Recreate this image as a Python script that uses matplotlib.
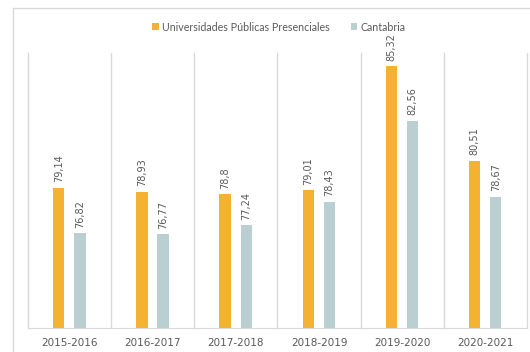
import numpy as np
import matplotlib.pyplot as plt
from matplotlib.lines import Line2D

cursos = ["2015-2016", "2016-2017", "2017-2018", "2018-2019", "2019-2020", "2020-2021"]
upp = [79.14, 78.93, 78.8, 79.01, 85.32, 80.51]
cantabria = [76.82, 76.77, 77.24, 78.43, 82.56, 78.67]

col_upp = "#F4B132"
col_cant = "#BACFD2"
col_text = "#595959"
col_grid = "#D9D9D9"

W, H = 530, 352
fig = plt.figure(figsize=(W / 100, H / 100), dpi=100)
# marco exterior del grafico: solo lados superior e izquierdo quedan dentro
fy = 1 - 8 / H
fx = 13 / W
fig.add_artist(Line2D([fx, 1.0], [fy, fy], transform=fig.transFigure, color=col_grid, lw=1))
fig.add_artist(Line2D([fx, fx], [0.0, fy], transform=fig.transFigure, color=col_grid, lw=1))

ax = fig.add_axes([28 / W, 24 / H, 499 / W, 275 / H])
x = np.arange(len(cursos))
w = 0.136
b1 = ax.bar(x - 0.13, upp, w, color=col_upp, label="Universidades Públicas Presenciales")
b2 = ax.bar(x + 0.125, cantabria, w, color=col_cant, label="Cantabria")

def etiquetas(barras, vals):
    for r, v in zip(barras, vals):
        txt = ("%g" % v).replace(".", ",")
        ax.annotate(txt, (r.get_x() + r.get_width() / 2, v), xytext=(0, 4),
                    textcoords="offset points", rotation=90, ha="center", va="bottom",
                    fontsize=7, color=col_text)

etiquetas(b1, upp)
etiquetas(b2, cantabria)

ax.set_ylim(72, 86)
ax.set_xlim(-0.5, len(cursos) - 0.5)
ax.set_yticks([])
ax.set_xticks(x)
ax.set_xticklabels(cursos, fontsize=7.5, color=col_text)
ax.tick_params(axis="x", length=0, pad=7)
for s in ["top", "left", "right"]:
    ax.spines[s].set_visible(False)
ax.spines["bottom"].set_color(col_grid)
for b in np.arange(-0.5, len(cursos), 1.0):
    ax.axvline(b, color=col_grid, linewidth=1, zorder=0, clip_on=False)

fig.legend(loc="center", bbox_to_anchor=(0.526, 0.923), ncol=2, frameon=False,
           prop={"family": "Lato", "size": 7.7}, labelcolor=col_text,
           handlelength=0.6, handleheight=0.6, handletextpad=0.3, columnspacing=2.0)

fig.savefig("out.png", dpi=100)
